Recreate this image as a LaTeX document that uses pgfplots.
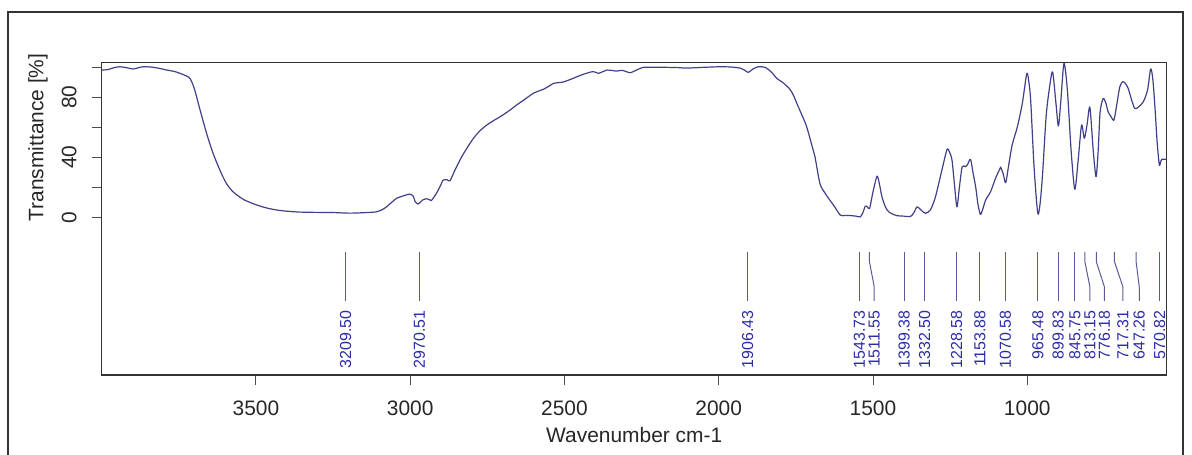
\documentclass[border=0pt]{standalone}
\usepackage{fontspec}
\setmainfont{Liberation Sans}
\usepackage{pgfplots}
\pgfplotsset{compat=1.18}
\definecolor{spec}{HTML}{40408A}
\definecolor{peak}{HTML}{2B2BA8}
\definecolor{pline}{HTML}{5A5A98}
\tikzset{pk/.style={pline,line width=0.5bp}}

\begin{document}
\begin{tikzpicture}[x=1bp,y=1bp]
\path[use as bounding box] (0,0) rectangle (596,227);
\draw[line width=0.7bp,black!80] (4,-5) -- (4,221) -- (591.5,221) -- (591.5,-5);
\begin{axis}[at={(50.85bp,39.5bp)},anchor=south west,scale only axis,
 width=532.5bp,height=156.15bp,
 x dir=reverse,xmin=548,xmax=4000,ymin=-105.1,ymax=103.1,
 xtick={1000,1500,2000,2500,3000,3500},
 ytick={0,20,40,60,80,100},yticklabels={0,{},40,{},80,{}},
 tick pos=left,tick align=outside,major tick length=5bp,
 tick style={black!70,line width=0.5bp},
 axis line style={black!80,line width=0.7bp},
 /pgf/number format/assume math mode=true,
 /pgf/number format/set thousands separator={},
 xticklabel shift=4.5bp,yticklabel shift=4bp,
 xticklabel style={font=\fontsize{10.5}{12}\selectfont,text=black!85},
 yticklabel style={font=\fontsize{10.5}{12}\selectfont,text=black!85,rotate=90,anchor=south},
 xlabel={Wavenumber cm-1},
 ylabel={Transmittance [\%]},
 xlabel style={font=\fontsize{10.5}{12}\selectfont,text=black!85,at={(axis description cs:0.5,-0.192)},anchor=center},
 ylabel style={font=\fontsize{10.5}{12}\selectfont,text=black!85,at={(axis description cs:-0.0598,0.7605)},anchor=center},
]
% spectrum
\addplot[spec,line width=0.6bp,line join=round,smooth,tension=0.45] coordinates {
(4000,98.2)(3980,98.5)(3960,99.8)(3941,100.4)(3920,99.8)(3898,98.9)(3880,99.8)(3865,100.4)
(3840,100.2)(3815,99.4)(3789,98.2)(3765,97.3)(3746,96.0)(3728,94.5)(3714,92.7)(3700,86)
(3681,71.5)(3660,56)(3639,42.7)(3617,31.5)(3596,22.7)(3574,17)(3541,12)(3510,9.2)(3487,7.5)
(3460,6.0)(3433,4.9)(3400,4.1)(3357,3.5)(3300,3.3)(3249,3.2)(3195,2.8)(3141,3.2)(3109,3.7)
(3090,5.2)(3077,7)(3060,10)(3044,12.7)(3020,14.5)(3001,15.5)(2990,14)(2984,10.5)(2974,8.9)
(2960,11.5)(2947,12.4)(2935,11.5)(2931,11.3)(2915,16)(2900,22)(2893,24.9)(2880,25)(2871,24.4)
(2855,31.5)(2833,40.4)(2815,46.5)(2795,52.7)(2775,57.5)(2752,61.5)(2730,64.5)(2709,67)
(2680,71)(2655,74.9)(2630,78.5)(2601,82.7)(2580,84.5)(2569,85.3)(2550,87.5)(2536,89.3)
(2520,89.8)(2504,90.2)(2480,92)(2460,93.7)(2440,95.3)(2412,97)(2400,96.8)(2390,96)
(2375,97.2)(2363,98.2)(2345,97.9)(2331,97.5)(2314,98)(2300,97.2)(2287,96.4)(2265,98.3)
(2244,100)(2200,100)(2168,100)(2130,99.8)(2104,99.5)(2050,100)(1996,100.4)(1960,100.2)
(1931,99.5)(1915,98)(1904,96.6)(1890,98.8)(1872,100.4)(1850,100)(1830,97)(1812,92.7)
(1790,89.5)(1769,85.3)(1757,81)(1747,76)(1730,68)(1715,60.4)(1694,44.9)(1688,40.4)
(1672,22.5)(1655,16)(1640,11.5)(1628,8.2)(1606,1.5)(1590,1.3)(1574,1.2)(1555,0.8)(1541,0.3)
(1532,3.5)(1525,7.5)(1518,7.0)(1511,6)(1500,17)(1487,27.5)(1479,22)(1471,13.7)(1460,7)
(1449,3.7)(1435,2)(1422,1.1)(1400,0.8)(1379,0.5)(1368,3)(1357,7)(1345,5)(1330,2.7)
(1314,4.9)(1300,12)(1292,18.2)(1275,33)(1260,45.3)(1252,43.5)(1244,38.2)(1236,22)(1228,7)
(1220,20)(1211,33.7)(1200,33.7)(1194,35)(1184,38.7)(1176,30)(1167,20)(1160,9)(1152,2)
(1145,5)(1135,11.5)(1119,17)(1103,26)(1088,32.7)(1086,33.3)(1078,29)(1070,23.1)(1060,35)
(1049,48.2)(1032,60.4)(1016,76)(1002,95.5)(996,92)(989,78.2)(978,33.7)(966,2.7)(958,10)
(950,30)(939,67)(929,84.9)(918,97)(907,76)(899,60.9)(891,78.2)(881,102.7)(870,84.9)
(858,44.9)(846,18.7)(835,38.2)(824,61.5)(815,52.7)(806,62)(797,73.3)(786,44)(777,27.1)
(770,45)(764,70)(754,79.3)(745,76)(738,70.4)(728,67)(719,64.9)(710,75)(700,87)(691,90.4)
(683,89.5)(673,86)(660,77)(651,72.5)(640,73.5)(624,77)(610,85)(600,99)(593,92)(586,73)
(579,50)(572,34.9)(568,37)(564,38.7)(548,38.7)
};
% peak marker lines
\addplot[pk] coordinates {(3209.50,-23)(3209.50,-55.6)};
\addplot[pk] coordinates {(2970.51,-23)(2970.51,-55.6)};
\addplot[pk] coordinates {(1906.43,-23)(1906.43,-55.6)};
\addplot[pk] coordinates {(1543.73,-23)(1543.73,-55.6)};
\addplot[pk] coordinates {(1511.55,-23)(1511.55,-29.6)(1496,-46.3)(1496,-55.6)};
\addplot[pk] coordinates {(1399.38,-23)(1399.38,-55.6)};
\addplot[pk] coordinates {(1332.50,-23)(1332.50,-55.6)};
\addplot[pk] coordinates {(1228.58,-23)(1228.58,-55.6)};
\addplot[pk] coordinates {(1153.88,-23)(1153.88,-55.6)};
\addplot[pk] coordinates {(1070.58,-23)(1070.58,-55.6)};
\addplot[pk] coordinates {(965.48,-23)(965.48,-55.6)};
\addplot[pk] coordinates {(899.83,-23)(899.83,-55.6)};
\addplot[pk] coordinates {(845.75,-23)(845.75,-55.6)};
\addplot[pk] coordinates {(813.15,-23)(813.15,-29.6)(797,-46.3)(797,-55.6)};
\addplot[pk] coordinates {(776.18,-23)(776.18,-29.6)(750,-46.3)(750,-55.6)};
\addplot[pk] coordinates {(717.31,-23)(717.31,-29.6)(690,-46.3)(690,-55.6)};
\addplot[pk] coordinates {(647.26,-23)(647.26,-29.6)(637,-46.3)(637,-55.6)};
\addplot[pk] coordinates {(570.82,-23)(570.82,-55.6)};
% peak labels
\addplot[draw=none,mark=none,nodes near coords,point meta=explicit symbolic,
 every node near coord/.append style={rotate=90,anchor=east,inner sep=0pt,
 font=\fontsize{8}{9}\selectfont,text=peak}]
 table[meta=lab] {
x y lab
3209.50 -61.8 3209.50
2970.51 -61.8 2970.51
1906.43 -61.8 1906.43
1543.73 -61.8 1543.73
1496 -61.8 1511.55
1399.38 -61.8 1399.38
1332.50 -61.8 1332.50
1228.58 -61.8 1228.58
1153.88 -61.8 1153.88
1070.58 -61.8 1070.58
965.48 -61.8 965.48
899.83 -61.8 899.83
845.75 -61.8 845.75
797 -61.8 813.15
750 -61.8 776.18
690 -61.8 717.31
637 -61.8 647.26
570.82 -61.8 570.82
};
\end{axis}
\end{tikzpicture}
\end{document}
